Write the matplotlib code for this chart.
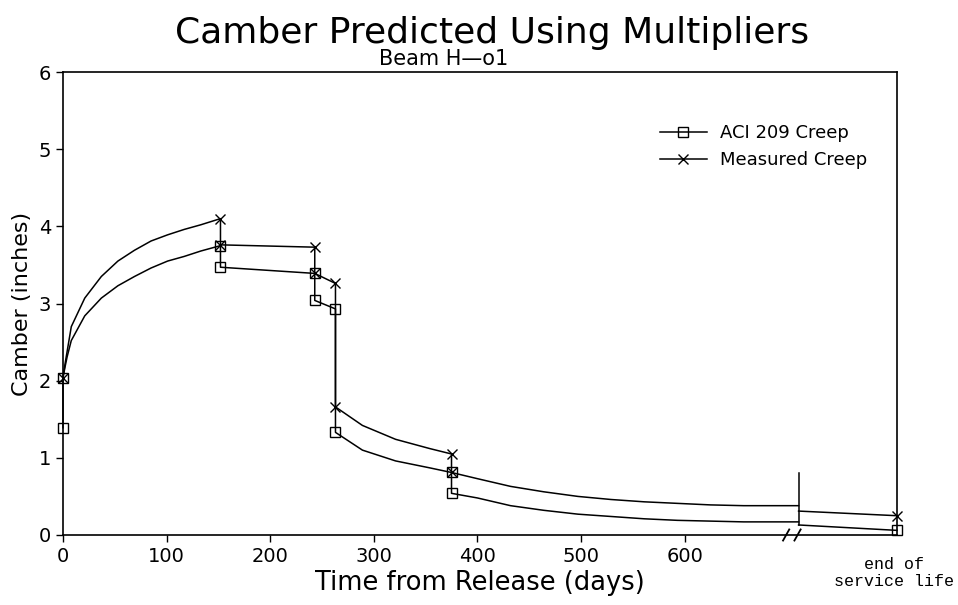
import matplotlib
matplotlib.use("Agg")
import matplotlib.pyplot as plt

# values (days, camber in inches)
# repeated days are the jumps at each loading event
meas_days = [0, 2, 4, 8, 21, 37, 53, 69, 85, 101, 117, 133, 152, 152, 243, 243, 263, 263,
             289, 321, 354, 375, 375, 400, 432, 464, 497, 529, 561, 593, 625, 657, 710]
meas_camber = [2.04, 2.22, 2.38, 2.70, 3.07, 3.35, 3.55, 3.69, 3.81, 3.89, 3.96, 4.02, 4.10,
               3.76, 3.73, 3.39, 3.26, 1.66, 1.42, 1.24, 1.12, 1.05, 0.81, 0.73, 0.63, 0.56,
               0.50, 0.46, 0.43, 0.41, 0.39, 0.38, 0.38]

aci_days = [0, 0, 2, 4, 8, 21, 37, 53, 69, 85, 101, 117, 133, 152, 152, 243, 243, 263, 263,
            289, 321, 354, 375, 375, 400, 432, 464, 497, 529, 561, 593, 625, 657, 710]
aci_camber = [1.39, 2.04, 2.18, 2.31, 2.52, 2.84, 3.07, 3.23, 3.35, 3.46, 3.55, 3.61, 3.68,
              3.75, 3.47, 3.39, 3.04, 2.93, 1.33, 1.10, 0.96, 0.87, 0.81, 0.54, 0.48, 0.38,
              0.32, 0.27, 0.24, 0.21, 0.19, 0.18, 0.17, 0.17]

# after the axis break: break position -> "end of service life" position
post_days = [710, 805]
meas_post = [0.31, 0.25]
aci_post = [0.13, 0.06]
break_top = 0.80

xticks = [0, 100, 200, 300, 400, 500, 600]
yticks = [0, 1, 2, 3, 4, 5, 6]


def event_marks(days):
    n = len(days)
    return [i for i in range(n)
            if i == 0 or days[i] == days[i - 1] or (i + 1 < n and days[i] == days[i + 1])]


fig = plt.figure(figsize=(9.58, 6.05), dpi=100)
ax = fig.add_axes([63/958, 1-535/605, 834/958, 463/605])

ax.plot(aci_days, aci_camber, color='black', lw=1.1, marker='s', ms=7, mfc='none', mew=1.0,
        markevery=event_marks(aci_days), label='ACI 209 Creep', clip_on=False)
ax.plot(meas_days, meas_camber, color='black', lw=1.1, marker='x', ms=7, mew=1.0,
        markevery=event_marks(meas_days), label='Measured Creep', clip_on=False)
ax.plot(post_days, aci_post, color='black', lw=1.1, marker='s', ms=7, mfc='none', mew=1.0,
        markevery=[1], clip_on=False)
ax.plot(post_days, meas_post, color='black', lw=1.1, marker='x', ms=7, mew=1.0,
        markevery=[1], clip_on=False)
# break line
ax.plot([post_days[0], post_days[0]], [aci_post[0], break_top], color='black', lw=1.1)

# break slashes on the x axis
trans = ax.get_xaxis_transform()
for d in [post_days[0] - 12, post_days[0] - 1]:
    ax.plot([d - 3, d + 3], [-0.012, 0.012], color='black', lw=1.3, transform=trans, clip_on=False)

ax.set_xlim(0, post_days[1])
ax.set_ylim(0, 6)
ax.set_xticks(xticks)
ax.set_yticks(yticks)
ax.tick_params(labelsize=14, direction='out', length=5, width=1.0)
for s in ax.spines.values():
    s.set_linewidth(1.2)

ax.set_xlabel('Time from Release (days)', fontsize=18.5, labelpad=3)
ax.set_ylabel('Camber (inches)', fontsize=16, labelpad=5)

fig.text(492/958, 1-33/605, 'Camber Predicted Using Multipliers', fontsize=26,
         ha='center', va='center')
fig.text(444/958, 1-59/605, 'Beam H\u2014o1', fontsize=15, ha='center', va='center')

ax.text(post_days[1] - 3, -0.28, 'end of\nservice life', family='Liberation Mono', fontsize=12,
        ha='center', va='top', linespacing=1.2)

ax.legend(loc='upper left', bbox_to_anchor=(660/958, 1-124/605), bbox_transform=fig.transFigure,
          frameon=False, fontsize=13, handlelength=2.6, handletextpad=0.7, borderpad=0,
          borderaxespad=0, labelspacing=0.5, numpoints=1)

fig.savefig('out.png', dpi=100)
